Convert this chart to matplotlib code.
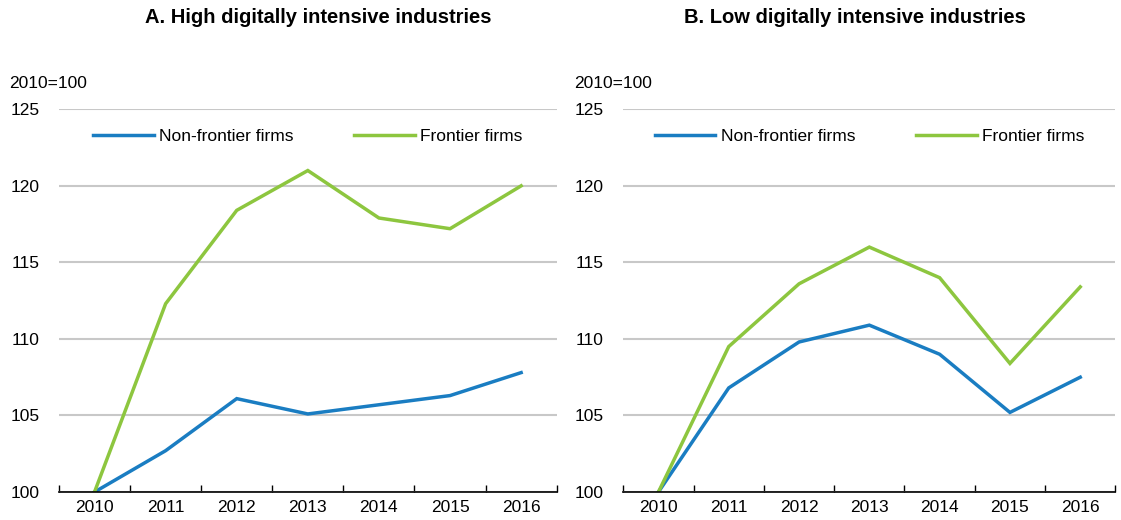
import matplotlib
matplotlib.use("Agg")
import matplotlib.pyplot as plt

plt.rcParams['font.family'] = ['Liberation Sans', 'DejaVu Sans']

years = ['2010', '2011', '2012', '2013', '2014', '2015', '2016']

# Panel A: high digitally intensive industries
high_nonfrontier = [100, 102.7, 106.1, 105.1, 105.7, 106.3, 107.8]
high_frontier = [100, 112.3, 118.4, 121.0, 117.9, 117.2, 120.0]

# Panel B: low digitally intensive industries
low_nonfrontier = [100, 106.8, 109.8, 110.9, 109.0, 105.2, 107.5]
low_frontier = [100, 109.5, 113.6, 116.0, 114.0, 108.4, 113.4]

titles = ['A. High digitally intensive industries', 'B. Low digitally intensive industries']
blue = '#1a7dc2'
green = '#8dc63f'

fig = plt.figure(figsize=(11.21, 5.2), dpi=100)
ax_a = fig.add_axes([0.0526, 0.0538, 0.444, 0.736])
ax_b = fig.add_axes([0.556, 0.0538, 0.439, 0.736])

panels = [(ax_a, high_nonfrontier, high_frontier, titles[0], 0.52),
          (ax_b, low_nonfrontier, low_frontier, titles[1], 0.47)]

for ax, nonf, front, title, tx in panels:
    x = list(range(len(years)))
    ax.plot(x, nonf, color=blue, lw=2.5, label='Non-frontier firms', solid_joinstyle='miter')
    ax.plot(x, front, color=green, lw=2.5, label='Frontier firms', solid_joinstyle='miter')
    ax.set_xlim(-0.5, len(years) - 0.5)
    ax.set_ylim(100, 125)
    ax.set_yticks([100, 105, 110, 115, 120, 125])
    ax.set_xticks(x)
    ax.set_xticklabels(years)
    ax.set_xticks([i - 0.5 for i in range(len(years) + 1)], minor=True)
    ax.tick_params(axis='x', which='major', length=0, labelsize=12.5, pad=6)
    ax.tick_params(axis='x', which='minor', direction='in', length=5, width=1, color='black')
    ax.tick_params(axis='y', length=0, labelsize=12.5, pad=14)
    ax.grid(axis='y', color='#c8c8c8', lw=1.5)
    ax.set_axisbelow(True)
    for s in ['top', 'right', 'left']:
        ax.spines[s].set_visible(False)
    ax.spines['bottom'].set_linewidth(1.2)
    ax.spines['bottom'].set_zorder(5)
    ax.text(-0.1, 1.068, '2010=100', transform=ax.transAxes, fontsize=12.5, ha='left', va='center')
    ax.text(tx, 1.24, title, transform=ax.transAxes, fontsize=14.5, fontweight='bold',
            ha='center', va='center')
    ax.legend(loc='upper center', bbox_to_anchor=(0.5, 0.99), ncol=2, frameon=False,
              fontsize=12.5, handlelength=3.5, handletextpad=0.3, columnspacing=3.5)

fig.savefig('out.png', dpi=100)
